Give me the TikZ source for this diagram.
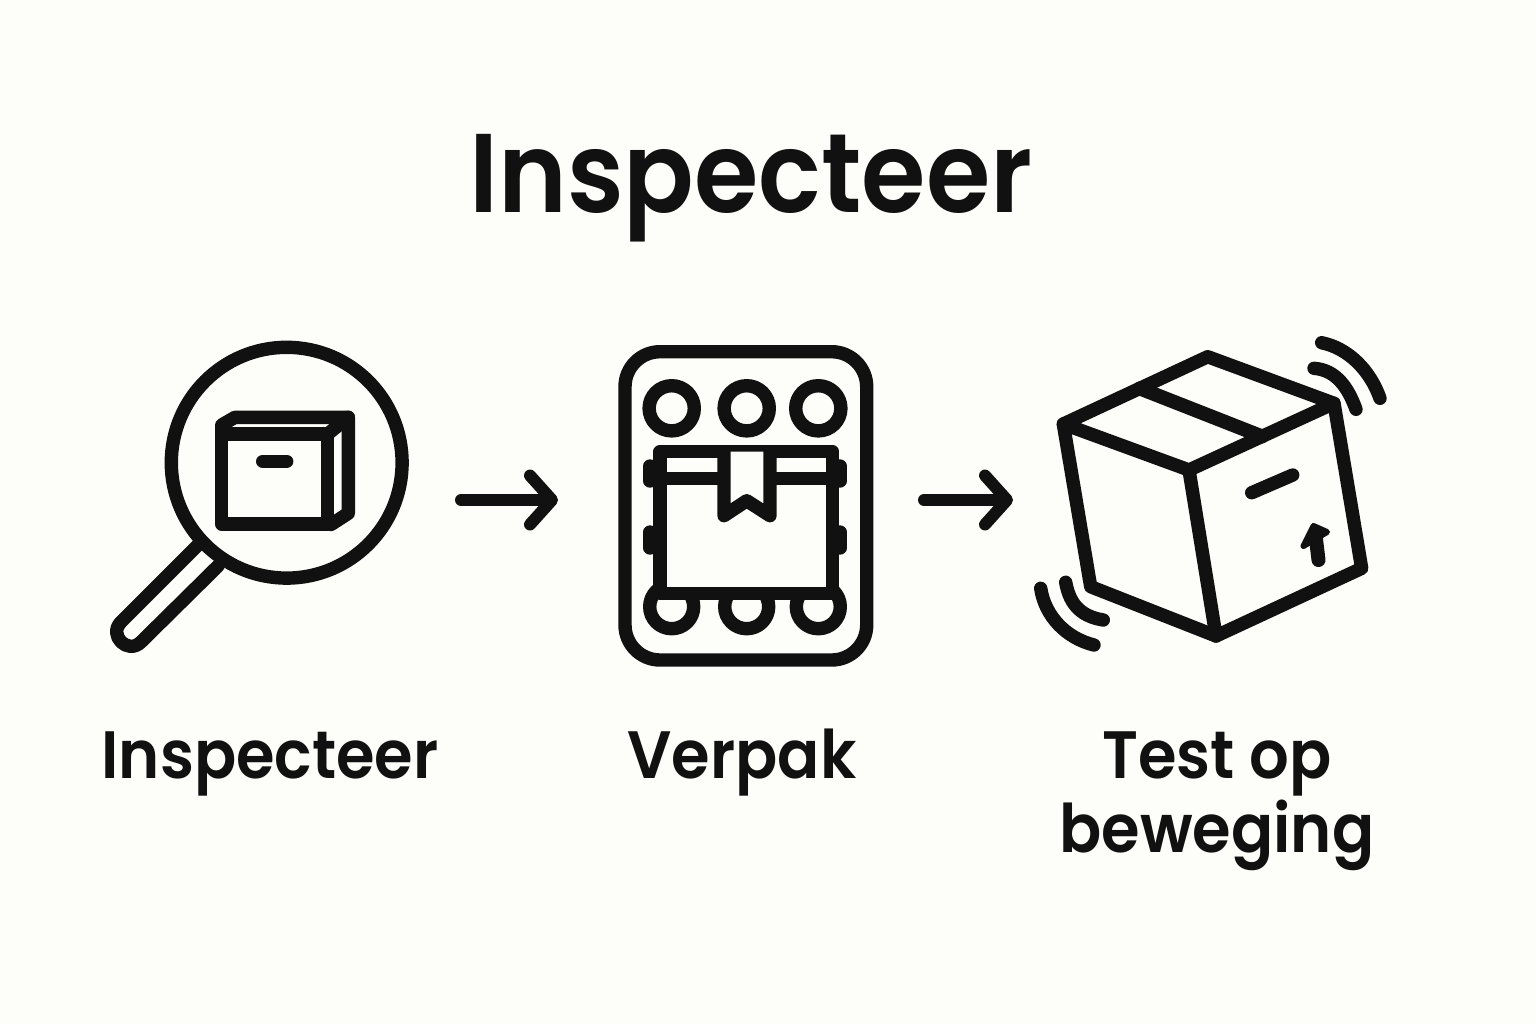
\documentclass[tikz,border=0pt]{standalone}
\usepackage{fontspec}
\newfontfamily\labelfont[FakeStretch=0.93]{Poppins SemiBold}
\usepackage{xcolor}
\usetikzlibrary{arrows.meta}
\definecolor{paper}{HTML}{FDFDF9}
\definecolor{ink}{HTML}{111111}
\tikzset{>={Straight Barb[length=11pt,width=24.5pt,round]}}
\tikzset{icon/.style={draw=ink, line width=6.7pt, line cap=round, line join=round}}
\tikzset{flow/.style={draw=ink, line width=6pt, line cap=round, line join=round, ->}}
\tikzset{heading/.style={text=ink, font=\labelfont\fontsize{56}{60}\selectfont, anchor=base}}
\tikzset{caption/.style={text=ink, font=\labelfont\fontsize{33.5}{37}\selectfont, anchor=base, align=center}}

\begin{document}
\begin{tikzpicture}[x=0.5pt, y=-0.5pt]
	  \fill[paper] (0,0) rectangle (1536,1024);
	  \useasboundingbox (0,0) rectangle (1536,1024);
	  \node (title) at (751,212) [heading] {Inspecteer};

	  % loep
	  \draw[icon] (286.7,462.7) circle (57.7pt);
	  \draw[icon] (197,546) -- (121,622) .. controls (107.8,635.2) and (127.8,655.2) .. (141,642) -- (218,566);
	  \draw[icon] (221.7,434) rectangle (327.7,524);
	  \draw[icon] (221.7,434) -- (221.7,425) -- (235,417.3) -- (348.3,417.3) -- (348.3,513.3) -- (331,524.5);
	  \draw[icon] (327.7,434) -- (348.3,417.3);
	  \draw[icon] (262.7,461.3) -- (286.7,461.3);
	  \node (inspectLabel) at (270,778) [caption] {Inspecteer};

	  \coordinate (flowAin) at (461,500);
	  \coordinate (flowAout) at (558,500);
	  \draw[flow] (flowAin) -- (flowAout);

	  % verpak
	  \draw[icon, rounded corners=17.5pt] (625,351.7) rectangle (866.7,660);
	  \foreach \wx in {671.7,746.7,818.3} {
	        \draw[icon] (\wx,408.3) circle (11.3pt);
	        \draw[icon] (\wx,606.7) circle (11pt);
	  }
	  \draw[icon] (650,466) -- (650,481);
	  \draw[icon] (650,532) -- (650,548);
	  \draw[icon] (840,466) -- (840,481);
	  \draw[icon] (840,532) -- (840,548);
	  \draw[icon, fill=paper] (660,451.7) rectangle (832.7,593.3);
	  \draw[icon] (660,478.3) -- (832.7,478.3);
	  \draw[icon, fill=paper] (724,451.7) -- (724,515.7) -- (746.7,500.7) -- (770,515.7) -- (770,451.7);
	  \node (packLabel) at (742,778) [caption] {Verpak};

	  \coordinate (flowBin) at (924,500);
	  \coordinate (flowBout) at (1013,500);
	  \draw[flow] (flowBin) -- (flowBout);

	  % doos
	  \draw[icon] (1063.3,424) -- (1207.7,356.7) -- (1334,403.3) -- (1189,470) -- cycle;
	  \draw[icon] (1063.3,424) -- (1090.7,586.7) -- (1216,636) -- (1361.7,568.3) -- (1334,403.3);
	  \draw[icon] (1189,470) -- (1216,636);
	  \draw[icon, line width=7pt] (1139.8,388.4) -- (1262,436.4);
	  \draw[icon] (1251.7,492.7) -- (1292.7,475);
	  \draw[icon, line width=7pt] (1318.5,560) -- (1315.5,535);
	  \draw[icon, line width=3pt, fill=ink] (1313.5,526) -- (1303.5,546) -- (1327,532) -- cycle;
	  \draw[icon] (1321.7,342.7) .. controls (1348.3,348.3) and (1370,370) .. (1380,398.3);
	  \draw[icon] (1314,368.3) .. controls (1336.7,370) and (1348.3,388.3) .. (1356,409.3);
	  \draw[icon] (1040.7,588.3) .. controls (1045,616.7) and (1066.7,638.3) .. (1094,645);
	  \draw[icon] (1065.7,582.3) .. controls (1070,606.7) and (1083.3,616.7) .. (1103.3,620);
	  \node (testLabel) at (1217,778) [caption] {Test op};
	  \node (moveLabel) at (1217,852) [caption] {beweging};
\end{tikzpicture}
\end{document}
